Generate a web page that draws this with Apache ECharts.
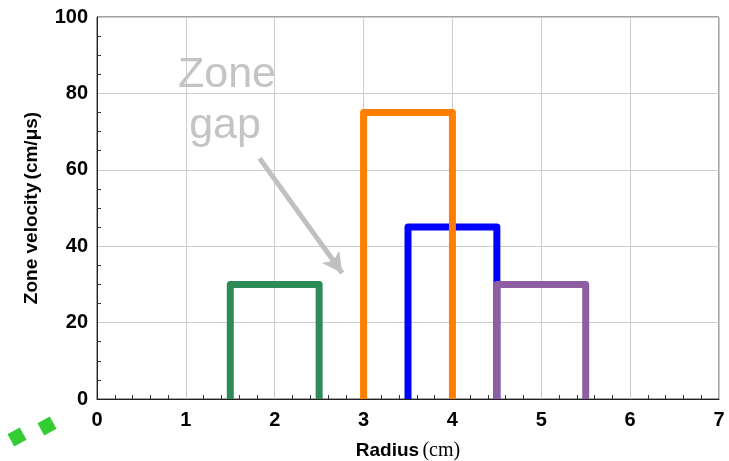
<!DOCTYPE html>
<html lang="en">

<head>
    <meta charset="UTF-8">
    <title>Zone velocity</title>
    <script src="https://cdn.jsdelivr.net/npm/echarts@6/dist/echarts.min.js"></script>
    <style>
        html, body { margin: 0; padding: 0; background: #fff; }
        #main { width: 729px; height: 461px; }
    </style>
</head>

<body>
    <div id="main"></div>
    <script>
        // zone edges (cm) and velocities (cm/us)
        var zoneNames = ['Zone A', 'Zone B', 'Zone C', 'Zone D'];
        var zoneStart = [1.5, 3.5, 3, 4.5];
        var zoneEnd = [2.5, 4.5, 4, 5.5];
        var zoneVelocity = [30, 45, 75, 30];
        var zoneColors = ['#2e8b57', '#0000ff', '#ff8000', '#8e5ea2'];
        var xTicks = [0, 1, 2, 3, 4, 5, 6, 7];
        var yTicks = [0, 20, 40, 60, 80, 100];
        // arrow of the "Zone gap" note, tail then head
        var gapArrow = [[1.83, 63], [2.76, 33]];

        var myChart = echarts.init(document.getElementById('main'));

        var series = zoneNames.map(function (name, i) {
            return {
                name: name,
                type: 'line',
                symbol: 'none',
                animation: false,
                data: [
                    [zoneStart[i], 0],
                    [zoneStart[i], zoneVelocity[i]],
                    [zoneEnd[i], zoneVelocity[i]],
                    [zoneEnd[i], 0]
                ],
                lineStyle: { color: zoneColors[i], width: 7, join: 'round', cap: 'butt' },
                z: 3 + i
            };
        });

        // arrow for the note
        series.push({
            type: 'line',
            data: [],
            silent: true,
            markLine: {
                silent: true,
                animation: false,
                symbol: ['none', 'arrow'],
                symbolSize: [16, 20],
                label: { show: false },
                lineStyle: { color: '#c0c0c0', width: 5, type: 'solid' },
                data: [[{ coord: gapArrow[0] }, { coord: gapArrow[1] }]]
            }
        });

        var option = {
            animation: false,
            grid: {
                left: 97, right: 10, top: 17, bottom: 62,
                outerBoundsMode: 'none',
                containLabel: false,
                show: true, borderColor: '#444', borderWidth: 1
            },
            xAxis: {
                type: 'value',
                min: xTicks[0], max: xTicks[xTicks.length - 1], interval: 1,
                name: '{b|Radius} {n|(cm)}',
                nameLocation: 'middle',
                nameGap: 42,
                nameTextStyle: {
                    rich: {
                        b: { fontFamily: 'Liberation Sans', fontWeight: 'bold', fontSize: 19, color: '#000' },
                        n: { fontFamily: 'Liberation Serif', fontSize: 20, color: '#000' }
                    }
                },
                axisLine: { lineStyle: { color: '#222', width: 1 } },
                axisTick: { show: false, inside: true },
                minorTick: { show: true, splitNumber: 5, length: 4, lineStyle: { color: '#333' } },
                axisLabel: {
                    margin: 11,
                    fontFamily: 'Liberation Sans', fontWeight: 'bold', fontSize: 20, color: '#000'
                },
                splitLine: { show: true, lineStyle: { color: '#cccccc', width: 1 } }
            },
            yAxis: {
                type: 'value',
                min: yTicks[0], max: yTicks[yTicks.length - 1], interval: 20,
                name: '{b|Zone velocity} {n|(cm/μs)}',
                nameLocation: 'middle',
                nameGap: 56,
                nameTextStyle: {
                    rich: {
                        b: { fontFamily: 'Liberation Sans', fontWeight: 'bold', fontSize: 19, color: '#000' },
                        n: { fontFamily: 'Liberation Sans', fontWeight: 'bold', fontSize: 19, color: '#000' }
                    }
                },
                axisLine: { show: true, lineStyle: { color: '#222', width: 1 } },
                axisTick: { show: false, inside: true },
                minorTick: { show: true, splitNumber: 4, length: 4, lineStyle: { color: '#333' } },
                axisLabel: {
                    margin: 9,
                    fontFamily: 'Liberation Sans', fontWeight: 'bold', fontSize: 20, color: '#000'
                },
                splitLine: { show: true, lineStyle: { color: '#cccccc', width: 1 } }
            },
            graphic: [
                {
                    type: 'text', x: 227, y: 75, z: 10,
                    style: {
                        text: 'Zone', fill: '#c4c4c4', fontSize: 43,
                        fontFamily: 'Liberation Sans', align: 'center', verticalAlign: 'middle'
                    }
                },
                {
                    type: 'text', x: 225, y: 126, z: 10,
                    style: {
                        text: 'gap', fill: '#c4c4c4', fontSize: 43,
                        fontFamily: 'Liberation Sans', align: 'center', verticalAlign: 'middle'
                    }
                },
                // green dashes in the lower left corner
                {
                    type: 'rect', x: 17, y: 437, rotation: 0.5, z: 10,
                    shape: { x: -7, y: -7, width: 14, height: 14 },
                    style: { fill: '#33cc33' }
                },
                {
                    type: 'rect', x: 47, y: 426, rotation: 0.5, z: 10,
                    shape: { x: -7, y: -7, width: 14, height: 14 },
                    style: { fill: '#33cc33' }
                }
            ],
            series: series
        };

        myChart.setOption(option);
    </script>
</body>

</html>
